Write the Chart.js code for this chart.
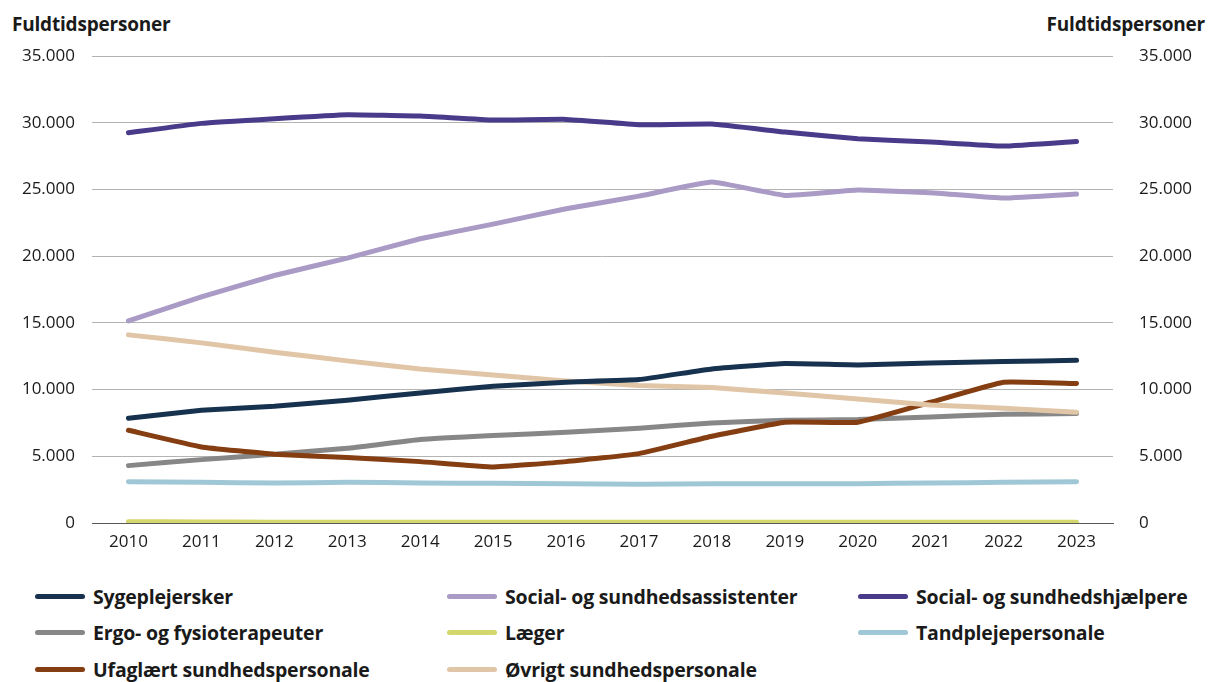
<!DOCTYPE html>
<html>
<head>
<meta charset="utf-8">
<title>Fuldtidspersoner</title>
<script src="https://cdn.jsdelivr.net/npm/chart.js@4.4.1/dist/chart.umd.min.js"></script>
<style>
  body { margin: 0; background: #fff; font-family: "Open Sans", "Noto Sans", sans-serif; }
  #wrap { position: relative; width: 1215px; height: 682px; }
  #chartBox { position: absolute; left: 0; top: 0; width: 1215px; height: 576px; }
  .axisTitle { position: absolute; top: 11px; font-weight: 700; font-size: 19px; color: #1a1a1a; letter-spacing: -0.2px; }
  #legend { position: absolute; left: 0; top: 583px; width: 1215px; }
  .item { position: absolute; display: flex; align-items: center; font-size: 19.5px; font-weight: 700; color: #1a1a1a; white-space: nowrap; letter-spacing: -0.2px; }
  .swatch { width: 50px; height: 5px; border-radius: 3px; margin-right: 8px; }
</style>
</head>
<body>
<div id="wrap">
  <div class="axisTitle" style="left:12px">Fuldtidspersoner</div>
  <div class="axisTitle" style="right:10px">Fuldtidspersoner</div>
  <div id="chartBox"><canvas id="myChart"></canvas></div>
  <div id="legend"></div>
</div>
<script>
var years = ["2010","2011","2012","2013","2014","2015","2016","2017","2018","2019","2020","2021","2022","2023"];

var sygeplejersker = [7850, 8450, 8750, 9200, 9750, 10250, 10550, 10750, 11550, 11950, 11850, 12000, 12100, 12200];
var sosuAssistenter = [15150, 16950, 18550, 19850, 21300, 22400, 23550, 24500, 25550, 24550, 24950, 24750, 24350, 24650];
var sosuHjaelpere = [29250, 29950, 30300, 30600, 30500, 30200, 30250, 29850, 29900, 29300, 28800, 28550, 28250, 28600];
var ergoFysio = [4300, 4750, 5150, 5600, 6250, 6550, 6800, 7100, 7500, 7700, 7750, 7950, 8150, 8200];
var laeger = [100, 80, 60, 60, 60, 60, 60, 60, 60, 60, 60, 60, 60, 60];
var tandpleje = [3100, 3050, 3000, 3050, 3000, 2975, 2950, 2900, 2950, 2950, 2950, 3000, 3050, 3100];
var ufaglaert = [6950, 5700, 5150, 4900, 4600, 4200, 4600, 5200, 6500, 7550, 7550, 9050, 10550, 10450];
var oevrigt = [14100, 13500, 12800, 12150, 11550, 11100, 10650, 10300, 10150, 9750, 9300, 8850, 8600, 8300];

var yTicks = [0, 5000, 10000, 15000, 20000, 25000, 30000, 35000];

var series = [
  { label: "Sygeplejersker", data: sygeplejersker, color: "#17324f", col: 0, row: 0 },
  { label: "Social- og sundhedsassistenter", data: sosuAssistenter, color: "#a99ac6", col: 1, row: 0 },
  { label: "Social- og sundhedshjælpere", data: sosuHjaelpere, color: "#4a3a8a", col: 2, row: 0 },
  { label: "Ergo- og fysioterapeuter", data: ergoFysio, color: "#878787", col: 0, row: 1 },
  { label: "Læger", data: laeger, color: "#d4d66e", col: 1, row: 1 },
  { label: "Tandplejepersonale", data: tandpleje, color: "#a0c7d6", col: 2, row: 1 },
  { label: "Ufaglært sundhedspersonale", data: ufaglaert, color: "#843e12", col: 0, row: 2 },
  { label: "Øvrigt sundhedspersonale", data: oevrigt, color: "#e0c5a6", col: 1, row: 2 }
];

// draw order: first listed is painted at the bottom
var drawOrder = ["Læger", "Tandplejepersonale", "Ergo- og fysioterapeuter", "Ufaglært sundhedspersonale", "Øvrigt sundhedspersonale", "Sygeplejersker", "Social- og sundhedsassistenter", "Social- og sundhedshjælpere"];

var datasets = series.map(function(s){
  return {
    label: s.label,
    data: s.data,
    borderColor: s.color,
    backgroundColor: s.color,
    borderWidth: 5,
    pointRadius: 0,
    tension: 0.1,
    borderCapStyle: "round",
    yAxisID: "y",
    order: drawOrder.length - drawOrder.indexOf(s.label)
  };
});

function fmt(v){
  return v.toLocaleString("da-DK");
}

var tickFont = { family: "'Open Sans', 'Noto Sans', sans-serif", size: 17 };

new Chart(document.getElementById("myChart"), {
  type: "line",
  data: { labels: years, datasets: datasets },
  options: {
    responsive: true,
    maintainAspectRatio: false,
    animation: false,
    layout: { padding: { top: 56, left: 0, right: 0, bottom: 0 } },
    plugins: { legend: { display: false }, tooltip: { enabled: false } },
    scales: {
      x: {
        offset: true,
        grid: { display: false, drawTicks: false },
        border: { display: true, color: "#595959", width: 1 },
        ticks: { font: tickFont, color: "#1a1a1a", padding: 9, maxRotation: 0 },
        afterFit: function(scale){ scale.height = 53; }
      },
      y: {
        position: "left",
        min: 0, max: 35000,
        afterBuildTicks: function(scale){ scale.ticks = yTicks.map(function(v){ return { value: v }; }); },
        grid: { color: "#b3b3b3", lineWidth: 1, drawTicks: false },
        border: { display: false },
        ticks: { font: tickFont, color: "#1a1a1a", padding: 17, callback: function(v){ return fmt(v); } },
        afterFit: function(scale){ scale.width = 92; }
      },
      y2: {
        position: "right",
        min: 0, max: 35000,
        afterBuildTicks: function(scale){ scale.ticks = yTicks.map(function(v){ return { value: v }; }); },
        grid: { display: false, drawTicks: false },
        border: { display: false },
        ticks: { font: tickFont, color: "#1a1a1a", padding: 26, callback: function(v){ return fmt(v); } },
        afterFit: function(scale){ scale.width = 102; }
      }
    }
  }
});

var legend = document.getElementById("legend");
var colX = [35, 447, 858];
var rowY = [0, 36, 73];
series.forEach(function(s){
  var it = document.createElement("div");
  it.className = "item";
  it.style.left = colX[s.col] + "px";
  it.style.top = rowY[s.row] + "px";
  it.innerHTML = '<span class="swatch" style="background:' + s.color + '"></span>' + s.label;
  legend.appendChild(it);
});
</script>
</body>
</html>
